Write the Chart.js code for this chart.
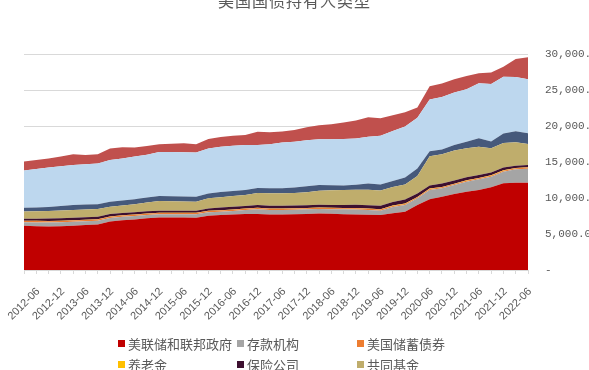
<!DOCTYPE html>
<html>
<head>
<meta charset="utf-8">
<script src="https://cdn.jsdelivr.net/npm/chart.js@4.4.0/dist/chart.umd.min.js"></script>
<style>
html,body{margin:0;padding:0;background:#fff;overflow:hidden;width:589px;height:370px;}
#wrap{position:relative;width:589px;height:370px;overflow:hidden;}
#title{position:absolute;left:0;width:589px;top:-8px;text-align:center;font-family:"Noto Sans CJK SC";font-size:16px;line-height:16px;color:#595959;letter-spacing:1px;}
#c{position:absolute;left:0;top:0;}
#legend{position:absolute;left:118px;top:333px;display:grid;grid-template-columns:119px 120px 120px;}
.item{display:flex;align-items:center;height:21px;font-family:"Noto Sans CJK SC";font-size:13px;color:#595959;white-space:nowrap;}
.box{width:7px;height:7px;margin-right:3px;flex:none;}
</style>
</head>
<body>
<div id="wrap">
  <canvas id="c" width="589" height="370"></canvas>
  <div id="title">美国国债持有人类型</div>
  <div id="legend"></div>
</div>
<script>
// Quarterly categories 2012-03 … 2022-06
const quarters = ["2012-03","2012-06","2012-09","2012-12","2013-03","2013-06","2013-09","2013-12","2014-03","2014-06","2014-09","2014-12","2015-03","2015-06","2015-09","2015-12","2016-03","2016-06","2016-09","2016-12","2017-03","2017-06","2017-09","2017-12","2018-03","2018-06","2018-09","2018-12","2019-03","2019-06","2019-09","2019-12","2020-03","2020-06","2020-09","2020-12","2021-03","2021-06","2021-09","2021-12","2022-03","2022-06"];

const seriesNames = ["美联储和联邦政府","存款机构","美国储蓄债券","养老金","保险公司","共同基金","州和地方政府","外国和国际","其他投资者"];
const seriesColors = ["#C00000","#A5A5A5","#ED7D31","#FFC000","#3D1030","#BFAD6C","#46597B","#BDD7EE","#C0504D"];

const fedGov = [6153,6083,6042,6083,6153,6250,6333,6736,6903,7014,7181,7292,7292,7278,7264,7542,7639,7694,7778,7778,7708,7708,7736,7778,7847,7806,7750,7708,7681,7639,7875,8097,9028,9819,10181,10556,10875,11111,11486,12042,12125,12125];
const depository = [486,528,556,556,556,528,500,486,486,486,458,444,444,458,472,472,444,500,556,653,625,625,639,653,625,639,681,708,653,597,875,931,931,1292,1167,1250,1389,1486,1472,1611,1861,1944];
const savingsBonds = [184,183,182,181,180,179,178,177,176,175,175,174,173,172,171,170,169,168,167,166,165,164,163,162,161,160,159,158,157,156,155,154,153,152,151,150,149,148,147,146,147,150];
const pension = [30,30,30,30,30,30,30,30,30,30,30,30,30,30,30,30,30,35,35,35,35,35,35,35,35,35,35,35,35,40,40,40,40,40,40,40,40,40,40,40,40,40];
const insurance = [260,300,340,350,345,345,345,340,330,330,310,295,295,300,305,345,390,385,370,380,380,380,370,350,380,390,410,450,470,480,500,560,480,420,470,420,420,410,380,400,320,330];
const mutualFunds = [1014,1028,1056,1069,1069,1069,1069,1000,1042,1111,1222,1333,1306,1278,1250,1389,1431,1486,1528,1694,1736,1750,1736,1806,1958,2042,2083,2097,2139,2125,2083,2083,2430,4069,4069,4167,4028,3931,3389,3417,3236,2917];
const stateLocal = [514,542,556,625,694,694,694,708,694,667,694,694,694,694,694,694,722,694,694,667,694,681,792,833,792,694,625,694,875,833,833,972,1040,694,653,792,917,1167,917,1306,1528,1486];
const foreign = [5181,5319,5472,5514,5556,5583,5653,5792,5833,5958,5931,6139,6153,6153,6139,6250,6292,6292,6250,6000,6111,6361,6333,6389,6347,6389,6458,6431,6500,6764,6944,7083,7056,7181,7306,7264,7278,7639,8014,7861,7556,7500];
const others = [1250,1250,1236,1361,1486,1292,1264,1597,1556,1250,1222,1069,1153,1236,1139,1292,1361,1375,1389,1819,1681,1528,1653,1806,1958,2083,2292,2500,2694,2431,2181,1986,1417,1847,1861,1861,1847,1389,1569,1389,2500,3056];

const yTicks = [0,5000,10000,15000,20000,25000,30000];

const seriesData = [fedGov,depository,savingsBonds,pension,insurance,mutualFunds,stateLocal,foreign,others];

const datasets = seriesData.map((d,i)=>({
  label: seriesNames[i],
  data: d,
  backgroundColor: seriesColors[i],
  borderColor: seriesColors[i],
  borderWidth: 0,
  pointRadius: 0,
  fill: i===0 ? 'origin' : '-1',
  tension: 0
}));

// HTML legend
const leg = document.getElementById('legend');
seriesNames.forEach((n,i)=>{
  const it = document.createElement('div'); it.className='item';
  const b = document.createElement('span'); b.className='box'; b.style.background=seriesColors[i];
  const t = document.createElement('span'); t.textContent=n;
  it.appendChild(b); it.appendChild(t); leg.appendChild(it);
});

const fmt = v => v===0 ? '-' : v.toLocaleString('en-US',{minimumFractionDigits:2,maximumFractionDigits:2});

new Chart(document.getElementById('c'), {
  type:'line',
  data:{labels:quarters, datasets},
  options:{
    responsive:false, animation:false, events:[],
    layout:{padding:{left:24, top:54, right:0, bottom:0}},
    plugins:{legend:{display:false}, title:{display:false}, tooltip:{enabled:false}},
    scales:{
      x:{
        offset:false,
        grid:{display:true, drawOnChartArea:false, drawTicks:true, tickLength:4, color:'#D9D9D9'},
        border:{display:true, color:'#D9D9D9'},
        ticks:{autoSkip:false, minRotation:45, maxRotation:45, color:'#595959', padding:11, labelOffset:2,
          font:{family:'Liberation Sans', size:11},
          callback:(v,i)=> (quarters[i].endsWith('-06')||quarters[i].endsWith('-12')) ? quarters[i] : ''},
        afterFit(s){ s.height = 100; s.paddingLeft = 0; s.paddingRight = 0; }
      },
      y:{
        position:'right', stacked:true, min:0, max:30000,
        afterBuildTicks(s){ s.ticks = yTicks.map(v=>({value:v})); },
        grid:{color:'#D9D9D9', drawTicks:false},
        border:{display:false},
        ticks:{padding:17, color:'#595959', font:{family:'Liberation Mono', size:11}, callback:v=>fmt(v)},
        afterFit(s){ s.width = 61; s.paddingTop = 0; s.paddingBottom = 0; }
      }
    }
  }
});
</script>
</body>
</html>
